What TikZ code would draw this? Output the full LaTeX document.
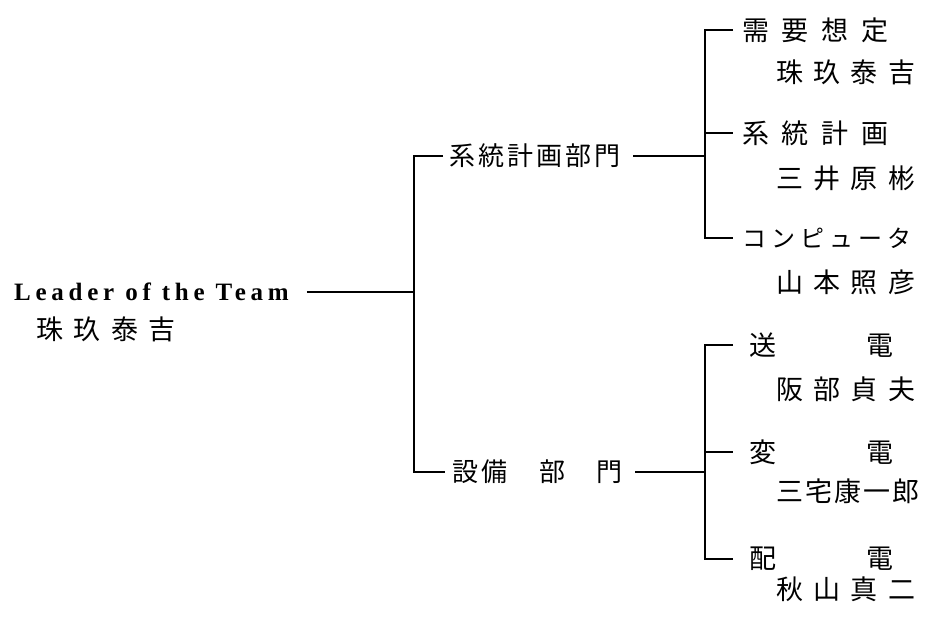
\documentclass[tikz,border=0pt]{standalone}
\usepackage{fontspec}
\setmainfont{Liberation Serif}
\newfontfamily\cjk{Noto Sans CJK JP}
\newcommand\gp[1]{\hspace{#1pt}}
\begin{document}
\begin{tikzpicture}[x=1pt,y=-1pt,
  conn/.style={draw=black,line width=2.6pt},
  latin/.style={anchor=west,inner sep=0pt,font=\bfseries\fontsize{25}{28}\selectfont\addfontfeature{LetterSpace=19}},
  leftname/.style={anchor=west,inner sep=0pt,font=\cjk\fontsize{27}{30}\selectfont},
  dept/.style={anchor=west,inner sep=0pt,font=\cjk\fontsize{26}{30}\selectfont},
  head/.style={anchor=west,inner sep=0pt,font=\cjk\fontsize{27}{30}\selectfont},
  kana/.style={anchor=west,inner sep=0pt,font=\cjk\fontsize{24}{28}\selectfont},
  person/.style={anchor=west,inner sep=0pt,font=\cjk\fontsize{27}{30}\selectfont}]
\path[use as bounding box] (0,0) rectangle (926,616);
\fill[white] (0,0) rectangle (926,616);

% leader
\node[latin] (leader) at (14,292) {Leader of the Team};
\node[leftname] (leadername) at (36,329) {珠\gp{10.5}玖\gp{10.5}泰\gp{10.5}吉};

% departments
\node[dept] (d1) at (449,156) {系\gp{3}統\gp{3}計\gp{3}画\gp{3}部\gp{3}門};
\node[dept] (d2) at (452,472) {設\gp{3}備\gp{32}部\gp{31}門};

% heads and persons, upper group
\node[head] (h1) at (742,30) {需\gp{12.7}要\gp{12.7}想\gp{12.7}定};
\node[person] (n1) at (776,72) {珠\gp{10.3}玖\gp{10.3}泰\gp{10.3}吉};
\node[head] (h2) at (742,133) {系\gp{12.7}統\gp{12.7}計\gp{12.7}画};
\node[person] (n2) at (776,178) {三\gp{10.3}井\gp{10.3}原\gp{10.3}彬};
\node[kana] (h3) at (742,238) {コ\gp{5}ン\gp{5}ピ\gp{5}ュ\gp{5}ー\gp{5}タ};
\node[person] (n3) at (776,282) {山\gp{10.3}本\gp{10.3}照\gp{10.3}彦};

% heads and persons, lower group
\node[head] (h4) at (749,345) {送\gp{90}電};
\node[person] (n4) at (776,389) {阪\gp{10.3}部\gp{10.3}貞\gp{10.3}夫};
\node[head] (h5) at (749,452) {変\gp{90}電};
\node[person] (n5) at (776,491) {三\gp{2}宅\gp{2}康\gp{2}一\gp{2}郎};
\node[head] (h6) at (749,559) {配\gp{90}電};
\node[person] (n6) at (776,589) {秋\gp{10.3}山\gp{10.3}真\gp{10.3}二};

% junctions
\coordinate (trunk) at (414,292);
\coordinate (b1) at (705,156);
\coordinate (b2) at (705,472);

% connectors
\draw[conn] ([xshift=18pt]leader.east) -- (trunk);
\draw[conn] ([xshift=-6pt]d1.west) -| (trunk) |- ([xshift=-7pt]d2.west);

\draw[conn] ([xshift=13pt]d1.east) -- (b1);
\draw[conn] ([xshift=-9pt]h1.west) -| (b1) |- ([xshift=-9pt]h3.west);
\draw[conn] (b1 |- h2.west) -- ([xshift=-9pt]h2.west);

\draw[conn] ([xshift=13pt]d2.east) -- (b2);
\draw[conn] ([xshift=-16pt]h4.west) -| (b2) |- ([xshift=-16pt]h6.west);
\draw[conn] (b2 |- h5.west) -- ([xshift=-16pt]h5.west);
\end{tikzpicture}
\end{document}
